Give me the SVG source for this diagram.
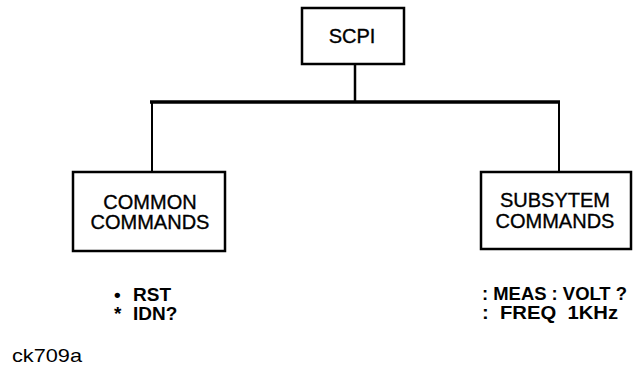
<svg xmlns="http://www.w3.org/2000/svg" width="635" height="374" viewBox="0 0 635 374">
<style>
.box{fill:#fff;stroke:#000;stroke-width:2.5}
.lbl{font-family:"Liberation Sans",Arial,sans-serif;font-size:20px;fill:#000;stroke:#000;stroke-width:0.35;text-anchor:middle}
.cmd{font-family:"Liberation Sans",Arial,sans-serif;font-size:19px;font-weight:bold;fill:#000}
.con{stroke:#000;fill:none}
</style>
<rect width="635" height="374" fill="#fff"/>
<g id="connectors">
<line class="con" x1="355" y1="64" x2="355" y2="102" stroke-width="2.5"/>
<line class="con" x1="150" y1="102" x2="560" y2="102" stroke-width="3.5"/>
<line class="con" x1="152" y1="102" x2="152" y2="172" stroke-width="2"/>
<line class="con" x1="559" y1="102" x2="559" y2="172" stroke-width="2"/>
</g>
<g id="scpi">
<rect class="box" x="302" y="8" width="102" height="56"/>
<text class="lbl" x="352" y="43">SCPI</text>
</g>
<g id="common">
<rect class="box" x="73" y="172" width="152" height="79"/>
<text class="lbl" x="150" y="209">COMMON</text>
<text class="lbl" x="150" y="229">COMMANDS</text>
</g>
<g id="subsystem">
<rect class="box" x="481" y="172" width="150" height="77"/>
<text class="lbl" x="555" y="207">SUBSYTEM</text>
<text class="lbl" x="555" y="228">COMMANDS</text>
</g>
<g id="common-cmds">
<text class="cmd" x="114" y="301">•</text>
<text class="cmd" x="133" y="301">RST</text>
<text class="cmd" x="114" y="320">*</text>
<text class="cmd" x="133" y="320">IDN?</text>
</g>
<g id="subsystem-cmds">
<text class="cmd" x="482" y="300" textLength="145" lengthAdjust="spacingAndGlyphs">: MEAS : VOLT ?</text>
<text class="cmd" x="482" y="319" xml:space="preserve" textLength="136" lengthAdjust="spacingAndGlyphs">:  FREQ  1KHz</text>
</g>
<text x="12" y="362" font-family="'Liberation Sans',Arial,sans-serif" font-size="19" fill="#000" textLength="70" lengthAdjust="spacingAndGlyphs">ck709a</text>
</svg>
